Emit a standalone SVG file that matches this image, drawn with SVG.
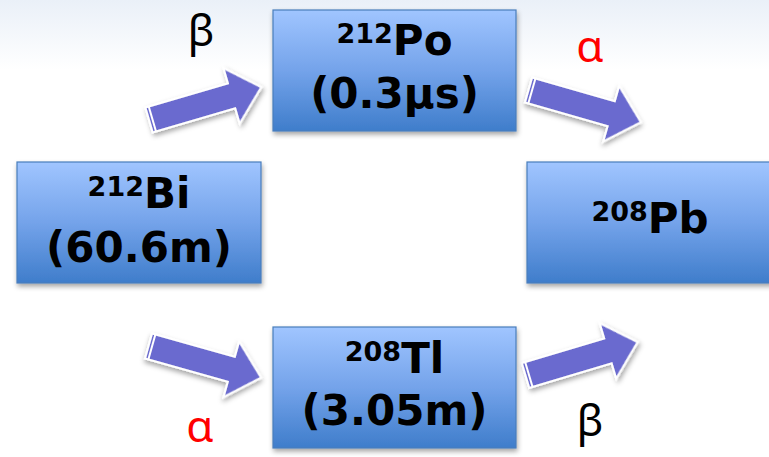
<svg xmlns="http://www.w3.org/2000/svg" width="769" height="457" viewBox="0 0 769 457">
<defs>
<linearGradient id="bg" x1="0" y1="0" x2="0" y2="1">
<stop offset="0" stop-color="#eaf0f8"/>
<stop offset="1" stop-color="#ffffff"/>
</linearGradient>
<linearGradient id="boxfill" x1="0" y1="0" x2="0" y2="1">
<stop offset="0" stop-color="#a0c5ff"/>
<stop offset="0.5" stop-color="#74a3ea"/>
<stop offset="1" stop-color="#3f7dcb"/>
</linearGradient>
<filter id="shadow" x="-20%" y="-20%" width="140%" height="150%">
<feDropShadow dx="1" dy="3" stdDeviation="2.5" flood-color="#000" flood-opacity="0.35"/>
</filter>
<path id="arrowShape" d="M0,-13 H86 V-29 L117,0 L86,29 V13 H0 Z"/>
</defs>
<style>
.box{fill:url(#boxfill);stroke:#4a7ebb;stroke-width:1.2;filter:url(#shadow)}
.t{font-family:"DejaVu Sans","Verdana",sans-serif;font-weight:bold;fill:#000;text-anchor:middle;font-size:42px}
.sup{font-size:27px}
.arrow{fill:#6b6bcf;stroke:#fff;stroke-width:2;stroke-linejoin:miter;filter:url(#shadow)}
.stripe{stroke:#fff;stroke-width:2}
.lbl{font-family:"Noto Sans","DejaVu Sans",sans-serif;font-size:44px;text-anchor:middle}
.beta{fill:#000}
.alpha{fill:#ff0000}
</style>
<rect x="0" y="0" width="769" height="457" fill="#fff"/>
<rect x="0" y="0" width="769" height="70" fill="url(#bg)"/>

<g id="connectors">
<g transform="translate(149,120) rotate(-16.3)">
<use href="#arrowShape" class="arrow"/>
<line x1="3.5" y1="-13" x2="3.5" y2="13" class="stripe"/>
</g>
<g transform="translate(528.5,90) rotate(16)">
<use href="#arrowShape" class="arrow"/>
<line x1="3.5" y1="-13" x2="3.5" y2="13" class="stripe"/>
</g>
<g transform="translate(148.5,346) rotate(15.7)">
<use href="#arrowShape" class="arrow"/>
<line x1="3.5" y1="-13" x2="3.5" y2="13" class="stripe"/>
</g>
<g transform="translate(525.5,375.5) rotate(-16.6)">
<use href="#arrowShape" class="arrow"/>
<line x1="3.5" y1="-13" x2="3.5" y2="13" class="stripe"/>
</g>
<text class="lbl beta" x="201" y="46">β</text>
<text class="lbl alpha" x="590" y="62">α</text>
<text class="lbl alpha" x="200" y="442">α</text>
<text class="lbl beta" x="590" y="436">β</text>
</g>

<g id="node-bi212">
<rect class="box" x="17" y="162" width="244" height="121"/>
<text class="t" x="139" y="208"><tspan class="sup" dy="-12">212</tspan><tspan dy="12">Bi</tspan></text>
<text class="t" x="139" y="262">(60.6m)</text>
</g>

<g id="node-po212">
<rect class="box" x="273" y="10" width="243" height="121"/>
<text class="t" x="394.5" y="55"><tspan class="sup" dy="-12">212</tspan><tspan dy="12">Po</tspan></text>
<text class="t" x="394.5" y="108">(0.3μs)</text>
</g>

<g id="node-tl208">
<rect class="box" x="273" y="327" width="243" height="121"/>
<text class="t" x="394.5" y="373"><tspan class="sup" dy="-12">208</tspan><tspan dy="12">Tl</tspan></text>
<text class="t" x="394.5" y="425">(3.05m)</text>
</g>

<g id="node-pb208">
<rect class="box" x="527" y="162" width="250" height="121"/>
<text class="t" x="650" y="233"><tspan class="sup" dy="-12">208</tspan><tspan dy="12">Pb</tspan></text>
</g>
</svg>
